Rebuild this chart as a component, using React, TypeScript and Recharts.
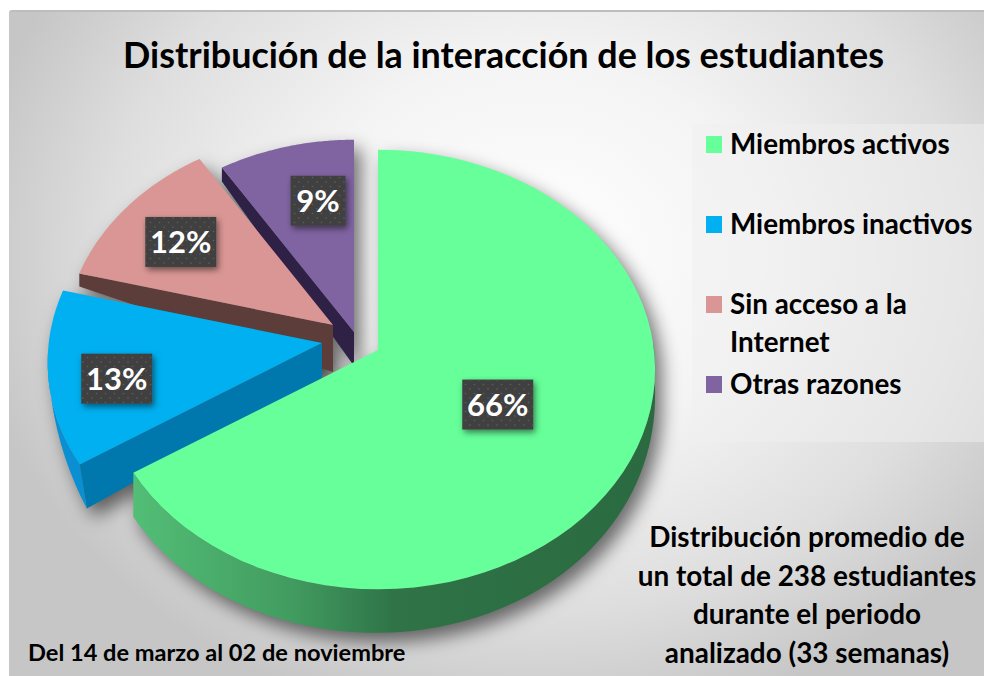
import React from 'react';
import { PieChart, Pie } from 'recharts';

const categories = ['Miembros activos', 'Miembros inactivos', 'Sin acceso a la Internet', 'Otras razones'];
const shares = [66, 13, 12, 9];
const colors = ['#66FF99', '#00B0F0', '#D99694', '#8064A2'];
const legendRows = [
  { text: 'Miembros activos', color: colors[0], y: 144 },
  { text: 'Miembros inactivos', color: colors[1], y: 224 },
  { text: 'Sin acceso a la', color: colors[2], y: 304 },
  { text: 'Internet', color: null, y: 342 },
  { text: 'Otras razones', color: colors[3], y: 384 },
];
const noteLines = ['Distribución promedio de', 'un total de 238 estudiantes', 'durante el periodo', 'analizado (33 semanas)'];

// slices are drawn back to front, so the table runs from purple to green, counter clockwise
const tableData = categories.map((name, i) => ({ name, value: shares[i], color: colors[i] })).reverse();

const FONT = 'Lato, "Open Sans", sans-serif';
const PERSP = 0.0888;
const FLAT = 0.79;

interface SliceLook {
  dx: number;
  dy: number;
  scale: number;
  apexDepth: number;
  outerDepth: number;
  outerShift: number;
  cut: string;
  cutEnd: 'start' | 'end' | 'none';
  arcFrom?: number;
  arcTo?: number;
  arcDepth?: [number, number];
  arcPower?: number;
  arcFill?: string;
  labelR: number;
  labelDx: number;
  labelDy: number;
}

const looks: Record<string, SliceLook> = {
  'Otras razones': { dx: -24, dy: -18, scale: 0.96, apexDepth: 34, outerDepth: 14, outerShift: 0, cut: '#2E2145', cutEnd: 'end', labelR: 0.66, labelDx: 9, labelDy: -9 },
  'Sin acceso a la Internet': { dx: -45, dy: -25, scale: 0.97, apexDepth: 47, outerDepth: 13, outerShift: 0, cut: '#5C3D3A', cutEnd: 'end', labelR: 0.72, labelDx: -4, labelDy: 2 },
  'Miembros inactivos': {
    dx: -56, dy: -7, scale: 0.99, apexDepth: 35, outerDepth: 44, outerShift: 7, cut: '#0077AD', cutEnd: 'end',
    arcFrom: 182, arcTo: 212.4, arcDepth: [0, 44], arcPower: 1, arcFill: '#0A90D2', labelR: 0.75, labelDx: 0, labelDy: 10,
  },
  'Miembros activos': {
    dx: 0, dy: 0, scale: 1, apexDepth: 44, outerDepth: 44, outerShift: 0, cut: 'url(#greenSide)', cutEnd: 'none',
    arcFrom: 212.4, arcTo: 362, arcDepth: [44, 22], arcPower: 4, arcFill: 'url(#greenSide)', labelR: 0.47, labelDx: 1, labelDy: 3,
  },
};

const spot = (cx: number, cy: number, rx: number, deg: number, r = 1) => {
  const s = Math.cos((deg * Math.PI) / 180);
  const c = -Math.sin((deg * Math.PI) / 180);
  const w = 1 - PERSP * c;
  return [cx + (rx * s * r) / w, cy + (rx * FLAT * c * r) / w];
};

const toPath = (pts: number[][]) => `M${pts.map((p) => `${p[0].toFixed(1)} ${p[1].toFixed(1)}`).join('L')}Z`;

const sliceParts = (props: any) => {
  const { cx, cy, outerRadius, startAngle, endAngle, name } = props;
  const look = looks[name];
  const ax = cx + look.dx;
  const ay = cy + look.dy;
  const rx = outerRadius * look.scale;
  const top: number[][] = [[ax, ay]];
  for (let i = 0; i <= 70; i++) top.push(spot(ax, ay, rx, startAngle + ((endAngle - startAngle) * i) / 70));

  let cutFace: number[][] | null = null;
  if (look.cutEnd !== 'none') {
    const outer = spot(ax, ay, rx, endAngle);
    cutFace = [[ax, ay], outer, [outer[0] + look.outerShift, outer[1] + look.outerDepth], [ax, ay + look.apexDepth]];
  }

  let arcFace: number[][] | null = null;
  if (look.arcFrom !== undefined) {
    const upper: number[][] = [];
    const lower: number[][] = [];
    const [d0, d1] = look.arcDepth!;
    for (let i = 0; i <= 70; i++) {
      const t = i / 70;
      const deg = look.arcFrom + (look.arcTo! - look.arcFrom) * t;
      const p = spot(ax, ay, rx, deg);
      upper.push(p);
      const tt = Math.pow(t, look.arcPower!);
      const depth = d0 + (d1 - d0) * tt;
      lower.push([p[0] + (look.outerShift * depth) / 44, p[1] + depth]);
    }
    arcFace = upper.concat(lower.reverse());
  }
  return { top, cutFace, arcFace, look };
};

const SliceShape = (props: any) => {
  const { top, cutFace, arcFace, look } = sliceParts(props);
  return (
    <g>
      {arcFace && <path d={toPath(arcFace)} fill={look.arcFill} />}
      {cutFace && <path d={toPath(cutFace)} fill={look.cut} />}
      <path d={toPath(top)} fill={props.color} />
    </g>
  );
};

const ShadowShape = (props: any) => {
  const { top, cutFace, arcFace } = sliceParts(props);
  const d = [top, cutFace, arcFace].filter(Boolean).map((p) => toPath(p as number[][])).join('');
  return <path d={d} fill="#000" fillOpacity={0.55} filter="url(#softShadow)" transform="translate(7 9)" />;
};

const PercentLabel = (props: any) => {
  const { cx, cy, outerRadius, midAngle, name, value } = props;
  const look = looks[name];
  const [px, py] = spot(cx + look.dx, cy + look.dy, outerRadius * look.scale, midAngle, look.labelR);
  const x = px + look.labelDx;
  const y = py + look.labelDy;
  const w = value < 10 ? 55 : 71;
  return (
    <g>
      <rect x={x - w / 2} y={y - 25} width={w} height={50} fill="#404040" filter="url(#boxShadow)" />
      <rect x={x - w / 2} y={y - 25} width={w} height={50} fill="url(#dots)" />
      <text x={x} y={y + 11} textAnchor="middle" fontFamily={FONT} fontWeight={700} fontSize={31} fill="#FFFFFF">
        {value}%
      </text>
    </g>
  );
};

const textBase: React.CSSProperties = {
  position: 'absolute',
  fontFamily: FONT,
  fontWeight: 700,
  color: '#000',
  whiteSpace: 'nowrap',
};

export default function App() {
  return (
    <div style={{ position: 'absolute', left: 0, top: 0, width: 984, height: 676, background: '#fff', overflow: 'hidden' }}>
      <div
        style={{
          position: 'absolute',
          left: 9,
          top: 10,
          width: 975,
          height: 666,
          boxSizing: 'border-box',
          background: 'radial-gradient(ellipse 570px 480px at 525px 240px, #ffffff 0%, #f4f4f4 40%, #dedede 75%, #c6c6c6 100%)',
          borderTop: '2px solid #bdbdbd',
          borderTopLeftRadius: 3,
        }}
      />
      <div style={{ position: 'absolute', left: 692, top: 124, width: 292, height: 318, background: 'rgba(240,240,240,0.5)' }} />
      <div style={{ position: 'absolute', left: 0, top: 0 }}>
        <PieChart width={984} height={676} margin={{ top: 0, right: 0, bottom: 0, left: 0 }}>
          <defs>
            <filter id="softShadow" x="-20%" y="-20%" width="140%" height="140%">
              <feGaussianBlur stdDeviation="9" />
            </filter>
            <filter id="boxShadow" x="-30%" y="-30%" width="170%" height="170%">
              <feDropShadow dx="2" dy="3" stdDeviation="3" floodColor="#000" floodOpacity="0.5" />
            </filter>
            <linearGradient id="greenSide" gradientUnits="userSpaceOnUse" x1="134" y1="0" x2="655" y2="0">
              <stop offset="0" stopColor="#52BE76" />
              <stop offset="0.3" stopColor="#429C60" />
              <stop offset="0.5" stopColor="#2F7347" />
              <stop offset="1" stopColor="#2B6A40" />
            </linearGradient>
            <pattern id="dots" width="9" height="9" patternUnits="userSpaceOnUse">
              <circle cx="2" cy="2" r="0.8" fill="#5E5E5E" />
              <circle cx="6.5" cy="6.5" r="0.8" fill="#5E5E5E" />
            </pattern>
          </defs>
          <Pie
            data={tableData}
            dataKey="value"
            nameKey="name"
            cx={378}
            cy={350}
            outerRadius={276}
            startAngle={90}
            endAngle={450}
            shape={ShadowShape}
            isAnimationActive={false}
            legendType="none"
          />
          <Pie
            data={tableData}
            dataKey="value"
            nameKey="name"
            cx={378}
            cy={350}
            outerRadius={276}
            startAngle={90}
            endAngle={450}
            shape={SliceShape}
            label={PercentLabel}
            labelLine={false}
            isAnimationActive={false}
            legendType="none"
          />
        </PieChart>
      </div>
      <div style={{ ...textBase, left: 0, width: 1007, top: 33, fontSize: 35.9, lineHeight: '44px', textAlign: 'center' }}>
        Distribución de la interacción de los estudiantes
      </div>
      {legendRows.map((row) => (
        <React.Fragment key={row.text}>
          {row.color && <div style={{ position: 'absolute', left: 706, top: row.y - 8, width: 16, height: 17, background: row.color }} />}
          <div style={{ ...textBase, left: 730, top: row.y - 18, fontSize: 27.8, lineHeight: '36px' }}>{row.text}</div>
        </React.Fragment>
      ))}
      {noteLines.map((line, i) => (
        <div key={line} style={{ ...textBase, left: 607, width: 400, textAlign: 'center', top: 518 + i * 38.5, fontSize: 27.9, lineHeight: '36px' }}>
          {line}
        </div>
      ))}
      <div style={{ ...textBase, left: 28, top: 637, fontSize: 23.6, lineHeight: '30px' }}>Del 14 de marzo al 02 de noviembre</div>
    </div>
  );
}
